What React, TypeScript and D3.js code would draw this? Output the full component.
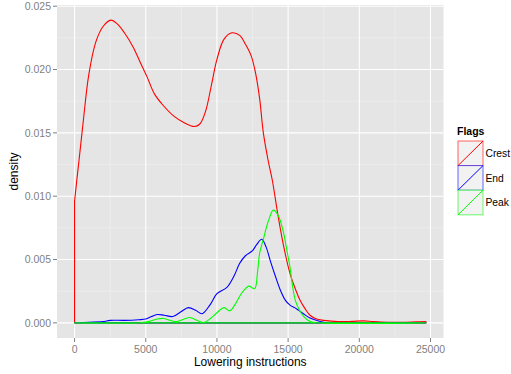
import React from "react";
import * as d3 from "d3";

// Density estimates of lowering instruction counts, per flag
const flags = ["Crest", "End", "Peak"];
const flagColors = ["#ff0000", "#0000ff", "#00ff00"];

const crestX = [0, 150, 300, 600, 1000, 1500, 2000, 2550, 3000, 3500, 4100, 4600, 5100, 5600, 6200, 7000, 7700, 8400, 8800, 9200, 9600, 10000, 10500, 11050, 11600, 12000, 12400, 12700, 13000, 13260, 13600, 13900, 14300, 14660, 15130, 15500, 15830, 16200, 16540, 17000, 17500, 18500, 19500, 20300, 21000, 22000, 23000, 24000, 24680];
const crestY = [0.0096, 0.0112, 0.0127, 0.0158, 0.0196, 0.0222, 0.0234, 0.0239, 0.0236, 0.0229, 0.0218, 0.0206, 0.0194, 0.0181, 0.0172, 0.0163, 0.0158, 0.0155, 0.0157, 0.0167, 0.0187, 0.0208, 0.0224, 0.0229, 0.0227, 0.0220, 0.0211, 0.0198, 0.0177, 0.0150, 0.0128, 0.0112, 0.0084, 0.0062, 0.0039, 0.0027, 0.0018, 0.0011, 0.0006, 0.0003, 0.0002, 0.0001, 0.00012, 0.00016, 0.0001, 0.00005, 0.00005, 0.00008, 0.0001];

const endX = [0, 1000, 2000, 2500, 3500, 4500, 5000, 5400, 5800, 6300, 6900, 7500, 8000, 8500, 8950, 9500, 10000, 10700, 11200, 11600, 12000, 12500, 12800, 13150, 13450, 13750, 14100, 14450, 14800, 15130, 15600, 16050, 16500, 17000, 17500, 18500, 24680];
const endY = [0, 0.00005, 0.0001, 0.0002, 0.0002, 0.00025, 0.0003, 0.0005, 0.00066, 0.0006, 0.0005, 0.0009, 0.0012, 0.001, 0.00072, 0.0014, 0.0023, 0.0028, 0.0037, 0.0047, 0.0053, 0.0057, 0.0062, 0.0066, 0.006, 0.0049, 0.0037, 0.0026, 0.0018, 0.0014, 0.0011, 0.00074, 0.0004, 0.0002, 0.00005, 0, 0];

const peakX = [0, 4500, 5200, 5800, 6250, 6700, 7200, 7700, 8100, 8600, 9050, 9500, 10000, 10500, 10900, 11300, 11650, 12000, 12250, 12650, 12850, 13000, 13260, 13600, 13960, 14300, 14660, 14900, 15130, 15300, 15500, 15800, 16100, 16550, 17200, 24680];
const peakY = [0, 0, 0.0001, 0.0003, 0.00035, 0.0002, 0.0001, 0.0003, 0.00042, 0.0002, 0.00002, 0.0003, 0.0008, 0.0012, 0.00095, 0.0015, 0.0022, 0.0027, 0.0029, 0.0027, 0.004, 0.0055, 0.0066, 0.008, 0.0089, 0.0085, 0.0072, 0.0058, 0.0044, 0.003, 0.0018, 0.001, 0.0005, 0.0001, 0, 0];

const seriesX = [crestX, endX, peakX];
const seriesY = [crestY, endY, peakY];

const xTicks = [0, 5000, 10000, 15000, 20000, 25000];
const yTicks = [0, 0.005, 0.01, 0.015, 0.02, 0.025];
const xMinor = [2500, 7500, 12500, 17500, 22500];
const yMinor = [0.0025, 0.0075, 0.0125, 0.0175, 0.0225];

const W = 511;
const H = 374;
const panel = { left: 57, right: 443.5, top: 5, bottom: 338 };
const font = "'Liberation Sans', Arial, Helvetica, sans-serif";

export default function App() {
  const xMax = 24680;
  const yMax = d3.max(crestY) as number;
  const xPad = xMax * 0.05;
  const yPad = yMax * 0.05;
  const x = d3.scaleLinear().domain([-xPad, xMax + xPad]).range([panel.left, panel.right]);
  const y = d3.scaleLinear().domain([-yPad, yMax + yPad]).range([panel.bottom, panel.top]);

  const curve = d3.line<[number, number]>()
    .x((d) => x(d[0]))
    .y((d) => Math.min(y(0), y(d[1])))
    .curve(d3.curveCatmullRom.alpha(0.5));

  const outline = (i: number) => {
    const xs = seriesX[i];
    const ys = seriesY[i];
    const pts: [number, number][] = xs.map((v, k) => [v, ys[k]]);
    const top = curve(pts) as string;
    const x0 = xs[0];
    const x1 = xs[xs.length - 1];
    return `${top}L${x(x1)},${y(0)}L${x(x0)},${y(0)}Z`;
  };

  const pw = panel.right - panel.left;
  const ph = panel.bottom - panel.top;
  const keyX = 458;
  const keyY = 141;
  const keyW = 25;
  const keyH = 24.6;

  return (
    <svg width={W} height={H} style={{ position: "absolute", left: 0, top: 0 }}>
      <rect x={0} y={0} width={W} height={H} fill="#ffffff" />
      <rect x={panel.left} y={panel.top} width={pw} height={ph} fill="#e5e5e5" />
      {xMinor.map((t) => (
        <line key={"xm" + t} x1={x(t)} x2={x(t)} y1={panel.top} y2={panel.bottom} stroke="#f2f2f2" strokeWidth={0.6} />
      ))}
      {yMinor.map((t) => (
        <line key={"ym" + t} x1={panel.left} x2={panel.right} y1={y(t)} y2={y(t)} stroke="#f2f2f2" strokeWidth={0.6} />
      ))}
      {xTicks.map((t) => (
        <line key={"xg" + t} x1={x(t)} x2={x(t)} y1={panel.top} y2={panel.bottom} stroke="#ffffff" strokeWidth={1.1} />
      ))}
      {yTicks.map((t) => (
        <line key={"yg" + t} x1={panel.left} x2={panel.right} y1={y(t)} y2={y(t)} stroke="#ffffff" strokeWidth={1.1} />
      ))}

      {flags.map((f, i) => (
        <path key={f} d={outline(i)} fill="none" stroke={flagColors[i]} strokeWidth={1.1} strokeLinejoin="round" />
      ))}

      {/* axes */}
      {yTicks.map((t) => (
        <g key={"yt" + t}>
          <line x1={panel.left - 4} x2={panel.left} y1={y(t)} y2={y(t)} stroke="#7f7f7f" strokeWidth={1} />
          <text x={panel.left - 6} y={y(t)} dy="0.35em" textAnchor="end" fontSize={10.5} fill="#7f7f7f" fontFamily={font}>
            {d3.format(".3f")(t)}
          </text>
        </g>
      ))}
      {xTicks.map((t) => (
        <g key={"xt" + t}>
          <line x1={x(t)} x2={x(t)} y1={panel.bottom} y2={panel.bottom + 4} stroke="#7f7f7f" strokeWidth={1} />
          <text x={x(t)} y={panel.bottom + 15} textAnchor="middle" fontSize={10.5} fill="#7f7f7f" fontFamily={font}>
            {t}
          </text>
        </g>
      ))}
      <text x={(panel.left + panel.right) / 2} y={366} textAnchor="middle" fontSize={12} fill="#000" fontFamily={font}>
        Lowering instructions
      </text>
      <text transform={`translate(18,${(panel.top + panel.bottom) / 2}) rotate(-90)`} textAnchor="middle" fontSize={12} fill="#000" fontFamily={font}>
        density
      </text>

      {/* legend */}
      <text x={457} y={135} fontSize={10.5} fontWeight="bold" fill="#000" fontFamily={font}>
        Flags
      </text>
      {flags.map((f, i) => {
        const ky = keyY + i * keyH;
        return (
          <g key={"k" + f}>
            <rect x={keyX} y={ky} width={keyW} height={keyH} fill="#f2f2f2" stroke={flagColors[i]} strokeOpacity={0.6} strokeWidth={1} />
            <line x1={keyX} y1={ky + keyH} x2={keyX + keyW} y2={ky} stroke={flagColors[i]} strokeWidth={1} />
            <text x={keyX + keyW + 2.5} y={ky + keyH / 2} dy="0.35em" fontSize={10.3} fill="#000" fontFamily={font}>
              {f}
            </text>
          </g>
        );
      })}
    </svg>
  );
}
